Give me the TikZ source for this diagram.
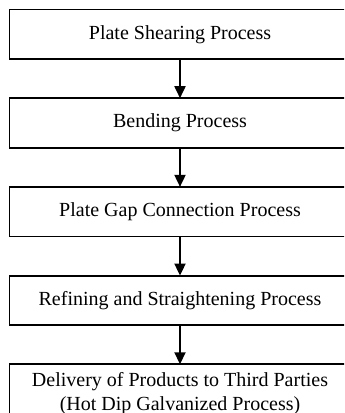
\documentclass[tikz,border=0pt]{standalone}
\usepackage{fontspec}
\setmainfont{Liberation Serif}
\usepackage{tikz}
\usetikzlibrary{arrows.meta}
\usetikzlibrary{positioning}

\begin{document}
\begin{tikzpicture}[
    process/.style={draw, line width=0.9pt, minimum width=170.5pt, minimum height=24.75pt,
      inner sep=0pt, outer sep=0pt, align=center},
    flow/.style={-{Triangle[length=6pt,width=5.5pt]}, line width=0.9pt},
    node distance=19.6pt]
      \useasboundingbox (0,0) rectangle (172pt,-206.5pt);
      \clip (0,0) rectangle (172pt,-206.5pt);

      \node[process, anchor=north west] (shearing) at (4.75pt,-4.75pt) {Plate Shearing Process};
      \node[process, below=of shearing] (bending) {Bending Process};
      \node[process, below=of bending] (gap) {Plate Gap Connection Process};
      \node[process, below=of gap] (refining) {Refining and Straightening Process};
      % last box runs past the lower edge
      \node[process, below=of refining, inner ysep=4pt] (delivery)
        {Delivery of Products to Third Parties\\(Hot Dip Galvanized Process)};

      \draw[flow] (shearing) -- (bending);
      \draw[flow] (bending) -- (gap);
      \draw[flow] (gap) -- (refining);
      \draw[flow] (refining) -- (delivery);
\end{tikzpicture}
\end{document}
